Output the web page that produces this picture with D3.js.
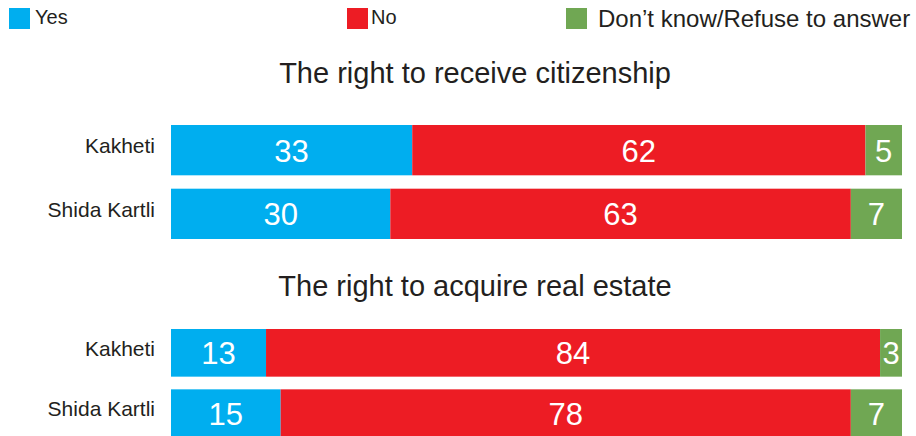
<!DOCTYPE html>
<html>
<head>
<meta charset="utf-8">
<script src="https://cdn.jsdelivr.net/npm/d3@7"></script>
<style>
  html, body { margin: 0; padding: 0; background: #fff; }
  svg { display: block; font-family: "Liberation Sans", Arial, Helvetica, sans-serif; }
</style>
</head>
<body>
<svg id="chart" width="916" height="436"></svg>
<script>
// Answer categories and their colours
const answers = ["Yes", "No", "Don’t know/Refuse to answer"];
const answerColors = ["#00AEEF", "#ED1C24", "#70A753"];

// Regions surveyed
const regions = ["Kakheti", "Shida Kartli"];

// Panel titles
const panelTitles = ["The right to receive citizenship", "The right to acquire real estate"];

// Percentages per region (Kakheti, Shida Kartli)
const citizenshipYes = [33, 30];
const citizenshipNo = [62, 63];
const citizenshipDontKnow = [5, 7];

const realEstateYes = [13, 15];
const realEstateNo = [84, 78];
const realEstateDontKnow = [3, 7];

const panels = [
  { title: panelTitles[0], yes: citizenshipYes, no: citizenshipNo, dk: citizenshipDontKnow, titleY: 83, range: [125, 239] },
  { title: panelTitles[1], yes: realEstateYes, no: realEstateNo, dk: realEstateDontKnow, titleY: 296, range: [329, 437] }
];

const svg = d3.select("#chart");
const textColor = "#231F20";

const x = d3.scaleLinear().domain([0, 100]).range([171, 902]);
const color = d3.scaleOrdinal().domain(answers).range(answerColors);

// Legend
const legendItems = [
  { key: answers[0], sx: 9, tx: 35, size: 20, ty: 24 },
  { key: answers[1], sx: 347, tx: 371, size: 20, ty: 24 },
  { key: answers[2], sx: 566, tx: 598, size: 24, ty: 26.5 }
];
const legend = svg.append("g");
legend.selectAll("rect").data(legendItems).join("rect")
  .attr("x", d => d.sx).attr("y", 8).attr("width", 21).attr("height", 21)
  .attr("fill", d => color(d.key));
legend.selectAll("text").data(legendItems).join("text")
  .attr("x", d => d.tx).attr("y", d => d.ty)
  .attr("font-size", d => d.size).attr("fill", textColor)
  .text(d => d.key);

const stack = d3.stack().keys(answers);

panels.forEach(p => {
  const rows = regions.map((r, i) => ({
    region: r,
    [answers[0]]: p.yes[i],
    [answers[1]]: p.no[i],
    [answers[2]]: p.dk[i]
  }));
  const series = stack(rows);

  const y = d3.scaleBand().domain(regions).range(p.range).paddingInner(0.21).paddingOuter(0);

  const g = svg.append("g");

  g.append("text")
    .attr("x", 475).attr("y", p.titleY)
    .attr("text-anchor", "middle")
    .attr("font-size", 29).attr("fill", textColor)
    .text(p.title);

  const layers = g.selectAll("g.layer").data(series).join("g")
    .attr("class", "layer")
    .attr("fill", d => color(d.key));

  layers.selectAll("rect").data(d => d).join("rect")
    .attr("x", d => x(d[0]))
    .attr("y", d => y(d.data.region))
    .attr("width", d => x(d[1]) - x(d[0]))
    .attr("height", y.bandwidth());

  layers.selectAll("text").data(d => d.map(v => ({ v, key: d.key }))).join("text")
    .attr("x", d => (x(d.v[0]) + x(d.v[1])) / 2)
    .attr("y", d => y(d.v.data.region) + y.bandwidth() / 2 + 11.5)
    .attr("text-anchor", "middle")
    .attr("font-size", 31)
    .attr("fill", "#fff")
    .text(d => d.v.data[d.key]);

  // Region labels
  const axis = d3.axisLeft(y).tickSize(0).tickPadding(0);
  const ax = g.append("g").attr("transform", "translate(155,0)").call(axis);
  ax.select(".domain").remove();
  ax.selectAll("text")
    .attr("font-size", 21)
    .attr("font-family", "Liberation Sans, Arial, sans-serif")
    .attr("fill", textColor)
    .attr("dy", "0.15em");
});
</script>
</body>
</html>
